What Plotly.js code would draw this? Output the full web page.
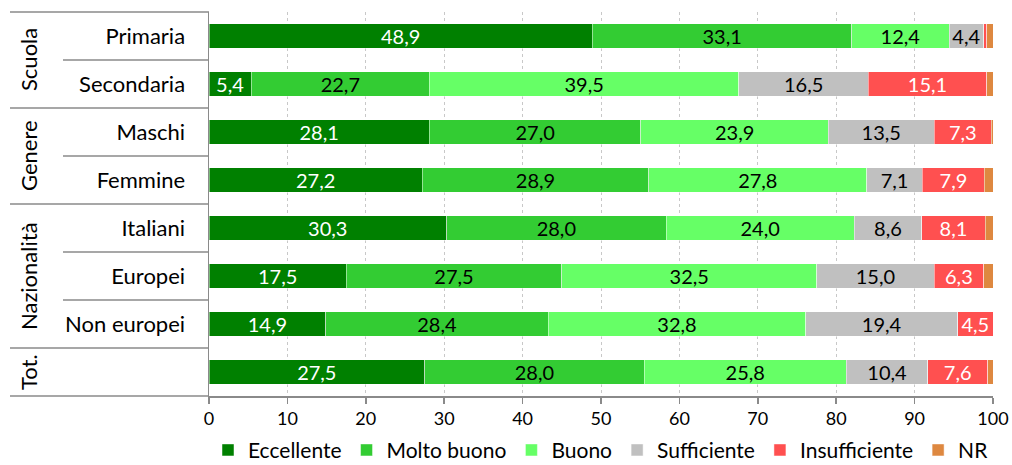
<!DOCTYPE html>
<html>
<head>
<meta charset="utf-8">
<script src="https://cdn.plot.ly/plotly-3.0.1.min.js"></script>
<style>
  html, body { margin: 0; padding: 0; background: #fff; }
  #chart { width: 1012px; height: 465px; }
</style>
</head>
<body>
<div id="chart"></div>
<script>
// Row keys, row labels and the groups they belong to
const categories = ['Primaria', 'Secondaria', 'Maschi', 'Femmine', 'Italiani', 'Europei', 'Non europei', 'Totale'];
const rowLabels = ['Primaria', 'Secondaria', 'Maschi', 'Femmine', 'Italiani', 'Europei', 'Non europei', ''];
const groupNames = ['Scuola', 'Genere', 'Nazionalità', 'Tot.'];
const groupSizes = [2, 2, 3, 1];

// Percentages per rating
const seriesNames = ['Eccellente', 'Molto buono', 'Buono', 'Sufficiente', 'Insufficiente', 'NR'];
const eccellente = [48.9, 5.4, 28.1, 27.2, 30.3, 17.5, 14.9, 27.5];
const moltoBuono = [33.1, 22.7, 27.0, 28.9, 28.0, 27.5, 28.4, 28.0];
const buono = [12.4, 39.5, 23.9, 27.8, 24.0, 32.5, 32.8, 25.8];
const sufficiente = [4.4, 16.5, 13.5, 7.1, 8.6, 15.0, 19.4, 10.4];
const insufficiente = [0.4, 15.1, 7.3, 7.9, 8.1, 6.3, 4.5, 7.6];
const nr = [0.8, 0.8, 0.2, 1.1, 1.0, 1.2, 0.0, 0.7];

const xTicks = [0, 10, 20, 30, 40, 50, 60, 70, 80, 90, 100];

const seriesValues = [eccellente, moltoBuono, buono, sufficiente, insufficiente, nr];
const colors = ['#008000', '#33CC33', '#66FF66', '#C0C0C0', '#FF5050', '#DE8840'];
const labelColors = ['#ffffff', '#000000', '#000000', '#000000', '#ffffff', '#000000'];
const showLabels = [true, true, true, true, true, false];

const FONT = 'Lato, "Open Sans", sans-serif';

const fmt = v => v.toFixed(1).replace('.', ',');

const traces = seriesValues.map((vals, i) => ({
  type: 'bar',
  orientation: 'h',
  name: seriesNames[i],
  y: categories,
  x: vals,
  text: vals.map(v => (showLabels[i] && v >= 3) ? fmt(v) : ''),
  textposition: 'inside',
  insidetextanchor: 'middle',
  textangle: 0,
  constraintext: 'none',
  textfont: { family: FONT, size: 20, color: labelColors[i] },
  marker: { color: colors[i], line: { color: 'rgba(255,255,255,0.6)', width: 0.8 } },
  hoverinfo: 'name+x'
}));

// Left-hand panel: separator lines and rotated group labels
const plotLeft = 209, plotRight = 993;
const plotW = plotRight - plotLeft;
const px = p => (p - plotLeft) / plotW;   // page pixel -> paper x
const nRows = categories.length;
const lineStyle = { color: '#8a8a8a', width: 1.5 };

const shapes = [];
const annotations = [];
// top border
shapes.push({ type: 'line', xref: 'paper', yref: 'paper', x0: px(10), x1: 0, y0: 1, y1: 1, line: lineStyle });
let row = 0;
groupNames.forEach((g, gi) => {
  const start = row;
  const end = row + groupSizes[gi];
  // inner separators within a group
  for (let r = start + 1; r < end; r++) {
    const yy = 1 - r / nRows;
    shapes.push({ type: 'line', xref: 'paper', yref: 'paper', x0: px(63), x1: 0, y0: yy, y1: yy, line: lineStyle });
  }
  // group bottom border
  const yb = 1 - end / nRows;
  shapes.push({ type: 'line', xref: 'paper', yref: 'paper', x0: px(10), x1: 0, y0: yb, y1: yb, line: lineStyle });
  annotations.push({
    xref: 'paper', yref: 'paper',
    x: px(28), y: 1 - (start + end) / 2 / nRows,
    text: g, textangle: -90, showarrow: false,
    xanchor: 'center', yanchor: 'middle',
    font: { family: FONT, size: 22, color: '#000' }
  });
  row = end;
});

const layout = {
  width: 1012, height: 465,
  margin: { l: plotLeft, r: 1012 - plotRight, t: 12, b: 69, autoexpand: false },
  paper_bgcolor: '#fff', plot_bgcolor: '#fff',
  barmode: 'stack',
  bargap: 0.48,
  separators: ',.',
  showlegend: true,
  font: { family: FONT, color: '#000' },
  xaxis: {
    range: [0, 100],
    tickvals: xTicks,
    ticktext: xTicks.map(String),
    ticks: 'outside', ticklen: 6, tickcolor: '#8a8a8a', tickwidth: 1.5,
    showline: true, linecolor: '#8a8a8a', linewidth: 1.5,
    showgrid: true, gridcolor: '#c8c8c8', griddash: 'dot', gridwidth: 1,
    zeroline: false,
    tickfont: { family: FONT, size: 18, color: '#000' },
    fixedrange: true
  },
  yaxis: {
    type: 'category',
    categoryorder: 'array', categoryarray: categories,
    autorange: 'reversed',
    tickvals: categories, ticktext: rowLabels,
    ticks: '', showline: true, linecolor: '#8a8a8a', linewidth: 1.5,
    showgrid: false, zeroline: false,
    ticklabelstandoff: 18,
    tickfont: { family: FONT, size: 22, color: '#000' },
    fixedrange: true
  },
  legend: {
    orientation: 'h',
    x: 0.5, xanchor: 'center',
    y: -0.088, yanchor: 'top',
    font: { family: FONT, size: 21, color: '#000' },
    traceorder: 'normal',
    itemwidth: 30
  },
  shapes: shapes,
  annotations: annotations
};

Plotly.newPlot('chart', traces, layout, { displayModeBar: false, staticPlot: true });
</script>
</body>
</html>
